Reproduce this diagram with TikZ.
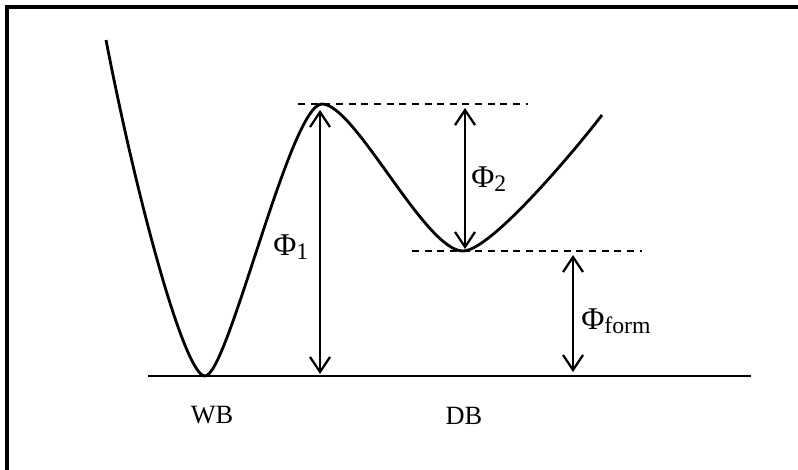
\documentclass[tikz,border=0pt]{standalone}
\usepackage{fontspec}
\setmainfont{Liberation Serif}
\usepackage{tikz}
\usetikzlibrary{arrows.meta}
\tikzset{
  frameline/.style={line width=2pt,line cap=rect},
  wellcurve/.style={line width=1.6pt,line join=round},
  baseline/.style={line width=1.5pt},
  level/.style={line width=1.2pt,dash pattern=on 4pt off 3.2pt},
  gap/.style={{Straight Barb[length=3mm,width=4mm]}-{Straight Barb[length=3mm,width=4mm]},line width=1.3pt},
  lbl/.style={inner sep=0pt,font=\fontsize{15}{17}\selectfont},
  phi/.style={inner sep=0pt,anchor=west}
}
\newcommand{\philab}[1]{{\fontsize{18}{20}\selectfont Φ}\raisebox{-0.5ex}{\fontsize{13.5}{15}\selectfont #1}}

\begin{document}
\begin{tikzpicture}[x=0.02cm,y=-0.02cm]
  \useasboundingbox (0,0) rectangle (798,470);
  \draw[frameline] (7,470) -- (7,7) -- (798,7);

  \coordinate (start) at (106,40);
  \coordinate (wb) at (205,376);
  \coordinate (peak) at (322,104);
  \coordinate (db) at (463,251);
  \coordinate (end) at (602,115);
  \coordinate (base left) at (148,376);
  \coordinate (base right) at (751,376);

  \draw[wellcurve] (start) .. controls (138,205) and (185,376) .. (wb)
    .. controls (228,376) and (290,104) .. (peak)
    .. controls (355,104) and (425,251) .. (db)
    .. controls (490,251) and (572,154) .. (end);
  \draw[baseline] (base left) -- (base right);

  \coordinate (top l) at (298,104);
  \coordinate (top r) at (528,104);
  \coordinate (mid l) at (412,251);
  \coordinate (mid r) at (642,251);
  \draw[level] (top l) -- (top r);
  \draw[level] (mid l) -- (mid r);

  \coordinate (a1 top) at (320,110);
  \coordinate (a1 bot) at (320,374);
  \coordinate (a2 top) at (465,108);
  \coordinate (a2 bot) at (465,249);
  \coordinate (a3 top) at (573,255);
  \coordinate (a3 bot) at (573,372);
  \draw[gap] (a1 top) -- (a1 bot);
  \draw[gap] (a2 top) -- (a2 bot);
  \draw[gap] (a3 top) -- (a3 bot);

  \node[phi] (phi1) at (273,247) {\philab{1}};
  \node[phi] (phi2) at (471,179) {\philab{2}};
  \node[phi] (phiform) at (581,321) {\philab{form}};

  \node[lbl] (wblab) at (212,415) {WB};
  \node[lbl] (dblab) at (464,416) {DB};
\end{tikzpicture}
\end{document}
